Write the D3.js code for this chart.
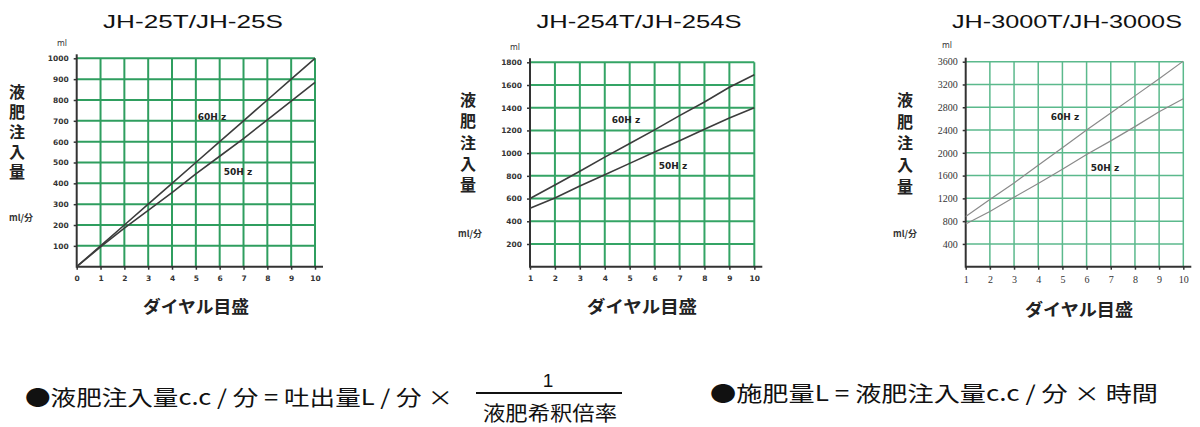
<!DOCTYPE html>
<html><head><meta charset="utf-8">
<script src="https://cdn.jsdelivr.net/npm/d3@7"></script>
<style>html,body{margin:0;padding:0;background:#fff;}svg{display:block;}</style>
</head><body>
<svg id="c" width="1200" height="427"></svg>
<script>
// ---- data ----
const titles = ["JH-25T/JH-25S", "JH-254T/JH-254S", "JH-3000T/JH-3000S"];
const dialA = [0,1,2,3,4,5,6,7,8,9,10];
const dialB = [1,2,3,4,5,6,7,8,9,10];
const jh25_60 = [0,100,200,300,400,500,600,700,800,900,1000];
const jh25_50 = [0,95,185,270,355,445,530,615,705,795,885];
const jh254_60 = [600,720,840,965,1085,1205,1330,1450,1580,1690];
const jh254_50 = [515,605,710,810,910,1010,1110,1210,1310,1400];
const jh3000_60 = [880,1180,1470,1780,2090,2400,2700,3000,3300,3610];
const jh3000_50 = [750,970,1220,1460,1710,1970,2210,2460,2720,2950];
const yTicks25 = [100,200,300,400,500,600,700,800,900,1000];
const yTicks254 = [200,400,600,800,1000,1200,1400,1600,1800];
const yTicks3000 = [400,800,1200,1600,2000,2400,2800,3200,3600];
const yMax = [1000, 1800, 3600];
const seriesNames = ["60H z", "50H z"];
const yLabel = "液肥注入量";
const unitTop = "ml", unitSide = "ml/分", xTitle = "ダイヤル目盛";
const formula1 = "●液肥注入量c.c / 分 = 吐出量L / 分 ×";
const formula1Num = "1", formula1Den = "液肥希釈倍率";
const formula2 = "●施肥量L = 液肥注入量c.c / 分 × 時間";

// ---- layout ----
const svg = d3.select("#c");
const JP = "'Noto Sans CJK JP', sans-serif";
const charts = [
  { title: titles[0], dial: dialA, s60: jh25_60, s50: jh25_50, yTicks: yTicks25, ymax: yMax[0],
    x0: 76.7, x1: 315, yTop: 58.3, yBot: 266.7, titleX: 193, titleW: 180,
    ylabX: 17, ylabY0: 92, ylabStep: 20, unitSideX: 21, unitSideY: 217, unitTopX: 62, unitTopY: 43,
    xTitleX: 196, xTitleW: 106, xTitleY: 305,
    lab60: [212, 117], lab50: [238, 172],
    grid: "#2f9e5f", gridW: 2, line: "#3c3c3c", lineW: 1.6, tickFont: "'DejaVu Sans', sans-serif", tickSize: 7.5, tickWeight: 700 },
  { title: titles[1], dial: dialB, s60: jh254_60, s50: jh254_50, yTicks: yTicks254, ymax: yMax[1],
    x0: 530, x1: 754.3, yTop: 62.3, yBot: 266.7, titleX: 639, titleW: 205,
    ylabX: 468, ylabY0: 100, ylabStep: 21.3, unitSideX: 470, unitSideY: 233, unitTopX: 515, unitTopY: 47,
    xTitleX: 642, xTitleW: 110, xTitleY: 305,
    lab60: [626, 120], lab50: [673, 166],
    grid: "#34a465", gridW: 2, line: "#3c3c3c", lineW: 1.6, tickFont: "'DejaVu Sans', sans-serif", tickSize: 7.5, tickWeight: 700 },
  { title: titles[2], dial: dialB, s60: jh3000_60, s50: jh3000_50, yTicks: yTicks3000, ymax: yMax[2],
    x0: 965.7, x1: 1183.3, yTop: 61.7, yBot: 266.7, titleX: 1067, titleW: 230,
    ylabX: 905, ylabY0: 100, ylabStep: 21.7, unitSideX: 905, unitSideY: 233, unitTopX: 947, unitTopY: 45,
    xTitleX: 1079, xTitleW: 108, xTitleY: 308,
    lab60: [1065, 117], lab50: [1105, 168],
    grid: "#5bb98c", gridW: 1.5, line: "#8a8a8a", lineW: 1.2, tickFont: "'Liberation Serif', serif", tickSize: 10, tickWeight: 400 }
];

charts.forEach(c => {
  const g = svg.append("g");
  const x = d3.scaleLinear().domain([c.dial[0], 10]).range([c.x0, c.x1]);
  const y = d3.scaleLinear().domain([0, c.ymax]).range([c.yBot, c.yTop]);

  // title
  g.append("text").attr("x", c.titleX - c.titleW/2).attr("y", 28)
    .attr("textLength", c.titleW).attr("lengthAdjust", "spacingAndGlyphs")
    .style("font-family", "'Liberation Sans', Arial, sans-serif").style("font-size", "19px")
    .style("fill", "#111").text(c.title);

  // grid
  g.append("g").selectAll("line").data(c.yTicks).join("line")
    .attr("x1", x(c.dial[0])).attr("x2", x(10)).attr("y1", d => y(d)).attr("y2", d => y(d))
    .attr("stroke", c.grid).attr("stroke-width", c.gridW);
  g.append("g").selectAll("line").data(c.dial.filter(d => d !== c.dial[0])).join("line")
    .attr("x1", d => x(d)).attr("x2", d => x(d)).attr("y1", y(c.ymax)).attr("y2", y(0))
    .attr("stroke", c.grid).attr("stroke-width", c.gridW);

  // axes
  const ax = g.append("g").attr("transform", `translate(0,${y(0)})`)
    .call(d3.axisBottom(x).tickValues(c.dial).tickSize(3).tickPadding(6).tickFormat(d3.format("d")));
  const ay = g.append("g").attr("transform", `translate(${x(c.dial[0])},0)`)
    .call(d3.axisLeft(y).tickValues(c.yTicks).tickSize(3).tickPadding(5).tickFormat(d3.format("d")));
  [ax, ay].forEach(a => {
    a.select(".domain").remove();
    a.selectAll(".tick line").attr("stroke", "#333").attr("stroke-width", 1.5);
    a.selectAll(".tick text").style("font-family", c.tickFont).style("font-size", c.tickSize + "px")
      .style("font-weight", c.tickWeight).style("fill", "#333");
  });
  g.append("line").attr("x1", x(c.dial[0])).attr("x2", x(10) + 8).attr("y1", y(0)).attr("y2", y(0))
    .attr("stroke", "#333").attr("stroke-width", 2);
  g.append("line").attr("x1", x(c.dial[0])).attr("x2", x(c.dial[0])).attr("y1", y(c.ymax) - 4).attr("y2", y(0) + 1)
    .attr("stroke", "#333").attr("stroke-width", 2);

  // series
  const line = d3.line().x((d, i) => x(c.dial[i])).y(d => y(d));
  [c.s60, c.s50].forEach(s => {
    g.append("path").datum(s).attr("d", line).attr("fill", "none")
      .attr("stroke", c.line).attr("stroke-width", c.lineW);
  });
  [[seriesNames[0], c.lab60], [seriesNames[1], c.lab50]].forEach(([t, p]) => {
    g.append("text").attr("x", p[0]).attr("y", p[1]).attr("text-anchor", "middle").attr("dominant-baseline", "central")
      .attr("xml:space", "preserve")
      .style("font-family", "'DejaVu Sans', sans-serif").style("font-size", "9px").style("font-weight", 700)
      .style("fill", "#222").text(t);
  });

  // y label (vertical writing)
  g.append("text").attr("x", c.ylabX).attr("y", c.ylabY0 - 8)
    .style("writing-mode", "vertical-rl").style("text-orientation", "upright")
    .style("letter-spacing", (c.ylabStep - 16) + "px")
    .style("font-family", JP).style("font-size", "16px").style("font-weight", 700).style("fill", "#222")
    .text(yLabel);
  g.append("text").attr("x", c.unitSideX).attr("y", c.unitSideY).attr("text-anchor", "middle").attr("dominant-baseline", "central")
    .style("font-family", JP).style("font-size", "9px").style("font-weight", 700).style("fill", "#333").text(unitSide);
  g.append("text").attr("x", c.unitTopX).attr("y", c.unitTopY).attr("text-anchor", "middle").attr("dominant-baseline", "central")
    .style("font-family", "'DejaVu Sans', sans-serif").style("font-size", "8px").style("fill", "#333").text(unitTop);

  // x title
  g.append("text").attr("x", c.xTitleX - c.xTitleW/2).attr("y", c.xTitleY).attr("dominant-baseline", "central")
    .attr("textLength", c.xTitleW).attr("lengthAdjust", "spacingAndGlyphs")
    .style("font-family", JP).style("font-size", "17px").style("font-weight", 700).style("fill", "#222")
    .text(xTitle);
});

// formulas
const fstyle = s => s.style("font-family", JP).style("font-size", "21px").style("fill", "#111");
fstyle(svg.append("text").attr("x", 25).attr("y", 396).attr("dominant-baseline", "central")
  .attr("textLength", 428).attr("lengthAdjust", "spacingAndGlyphs").text(formula1));
svg.append("line").attr("x1", 476).attr("x2", 622).attr("y1", 393).attr("y2", 393).attr("stroke", "#111").attr("stroke-width", 2);
svg.append("text").attr("x", 548).attr("y", 380).attr("text-anchor", "middle").attr("dominant-baseline", "central")
  .style("font-family", "'Liberation Sans', sans-serif").style("font-size", "19px").style("fill", "#111").text(formula1Num);
fstyle(svg.append("text").attr("x", 483).attr("y", 412).attr("dominant-baseline", "central")
  .attr("textLength", 134).attr("lengthAdjust", "spacingAndGlyphs").text(formula1Den)).style("font-size", "20px");
fstyle(svg.append("text").attr("x", 710).attr("y", 392).attr("dominant-baseline", "central")
  .attr("textLength", 448).attr("lengthAdjust", "spacingAndGlyphs").text(formula2));
</script>
</body></html>
